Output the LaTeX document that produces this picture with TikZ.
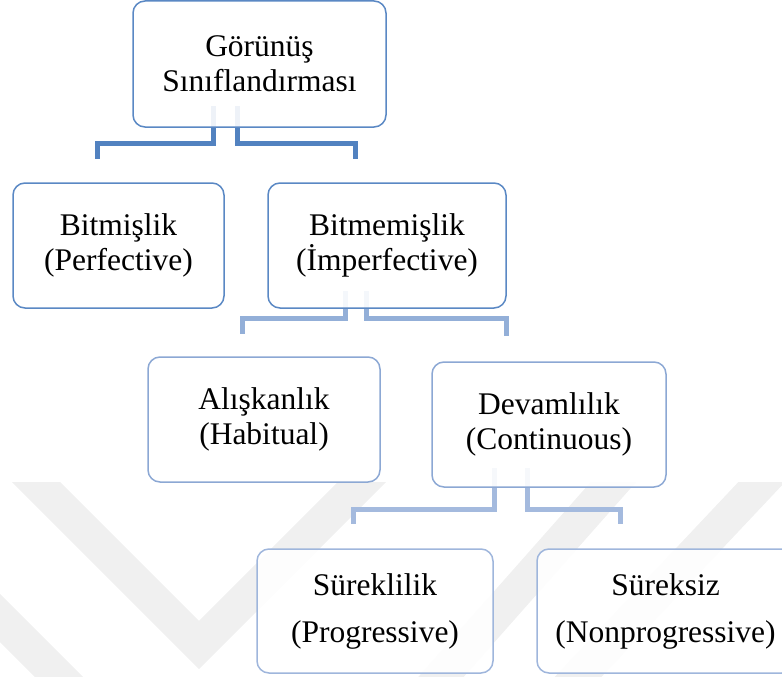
\documentclass[tikz,border=0pt]{standalone}
\usepackage{fontspec}
\setmainfont{Liberation Serif}
\usetikzlibrary{backgrounds}
\definecolor{bxA}{HTML}{5A88C4}
\definecolor{bxB}{HTML}{8CA8D4}
\definecolor{bxC}{HTML}{9FB6DC}
\definecolor{cnA}{HTML}{5282C0}
\definecolor{cnB}{HTML}{93AFD8}
\definecolor{cnC}{HTML}{A4BADE}
\definecolor{wmark}{HTML}{F0F0F0}
\begin{document}
\begin{tikzpicture}[x=1pt,y=-1pt,
  box/.style={draw, rounded corners=12pt, fill=white, fill opacity=0.9, text opacity=1,
    line width=1.5pt, align=center, inner sep=0pt, text=black,
    font=\fontsize{31.5}{35}\selectfont},
  boxlow/.style={box, font=\fontsize{31.5}{47}\selectfont},
  conn/.style={line width=5pt},
  wm/.style={draw=wmark, line width=34pt, line join=miter}]
\useasboundingbox (0,0) rectangle (782,677);
% boxes
\path
 node[box, draw=bxA, minimum width=253pt, minimum height=126pt] (B1) at (259.5,64) {Görünüş\\Sınıflandırması}
 node[box, draw=bxA, minimum width=211pt, minimum height=125pt] (B2) at (118.5,245.5) {Bitmişlik\\(Perfective)}
 node[box, draw=bxA, minimum width=238pt, minimum height=125pt] (B3) at (387,245.5) {Bitmemişlik\\(İmperfective)}
 node[box, draw=bxB, minimum width=232pt, minimum height=125pt] (B4) at (264,419.5) {Alışkanlık\\(Habitual)}
 node[box, draw=bxB, minimum width=234pt, minimum height=125pt] (B5) at (549,424.5) {Devamlılık\\(Continuous)}
 node[boxlow, draw=bxC, minimum width=236pt, minimum height=124pt] (B6) at (375,611) {Süreklilik\\(Progressive)}
 node[boxlow, draw=bxC, minimum width=257pt, minimum height=124pt] (B7) at (665.5,611) {Süreksiz\\(Nonprogressive)};
\begin{pgfonlayer}{background}
% faint watermark
\begin{scope}
\clip (0,482) rectangle (782,677);
\draw[wm] (6,452) -- (199,645) -- (392,452);
\draw[wm] (-50,568) -- (160,778);
\draw[wm] (640,452) -- (410,712);
\draw[wm] (790,452) -- (545,712);
\end{scope}
% connectors (behind boxes)
\draw[conn, draw=cnA] ([xshift=-46.5pt,yshift=22pt]B1.south) -- ++(0,38) -| ([xshift=-21.5pt,yshift=23pt]B2.north);
\draw[conn, draw=cnA] ([xshift=-22.5pt,yshift=22pt]B1.south) -- ++(0,38) -| ([xshift=-32pt,yshift=23pt]B3.north);
\draw[conn, draw=cnB] ([xshift=-42pt,yshift=18pt]B3.south) -- ++(0,28) -| ([xshift=-22pt,yshift=22pt]B4.north);
\draw[conn, draw=cnB] ([xshift=-21pt,yshift=18pt]B3.south) -- ++(0,28) -| ([xshift=-43pt,yshift=25pt]B5.north);
\draw[conn, draw=cnC] ([xshift=-55pt,yshift=20pt]B5.south) -- ++(0,42) -| ([xshift=-22pt,yshift=24pt]B6.north);
\draw[conn, draw=cnC] ([xshift=-22pt,yshift=20pt]B5.south) -- ++(0,42) -| ([xshift=-45.5pt,yshift=24pt]B7.north);
\end{pgfonlayer}
\end{tikzpicture}
\end{document}
